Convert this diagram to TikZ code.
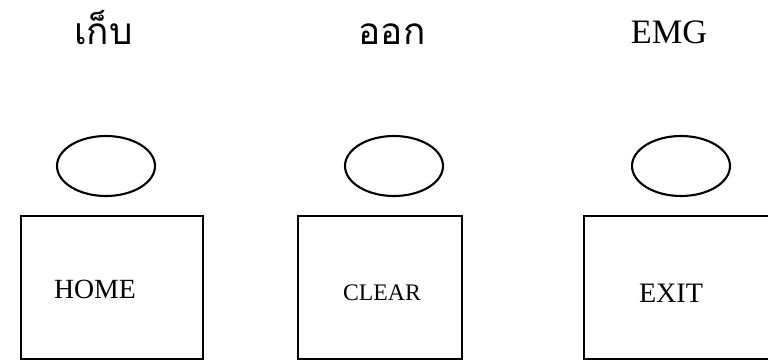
\documentclass[tikz,border=0pt]{standalone}
\usepackage{fontspec}
\setmainfont{Liberation Serif}
\newfontfamily\thaifont[Script=Thai]{Loma}
\usetikzlibrary{shapes.geometric,positioning}

\tikzset{
    keybox/.style={draw,line width=1.1pt,rectangle,minimum height=2.86cm,inner sep=0pt},
    lamp/.style={draw,line width=1.2pt,ellipse,minimum width=1.96cm,minimum height=1.2cm,inner sep=0pt},
    toplabel/.style={anchor=base,font=\fontsize{19.5}{22}\selectfont},
    thailabel/.style={anchor=base,font=\thaifont\fontsize{21}{24}\selectfont},
    keytext/.style={font=\fontsize{15.8}{18}\selectfont}
}

\begin{document}
\begin{tikzpicture}
    \useasboundingbox (0,0) rectangle (15.36,7.24);
    % Labels on top
    \node[thailabel] (lblkeep) at (2.07,6.34) {เก็บ};
    \node[thailabel] (lblout) at (7.84,6.34) {ออก};
    \node[toplabel] (lblemg) at (13.38,6.36) {EMG};
    % Lamps
    \node[lamp] (lamphome) at (2.12,3.92) {};
    \node[lamp] (lampclear) at (7.88,3.92) {};
    \node[lamp] (lampexit) at (13.62,3.92) {};
    % Keys
    \node[keybox,minimum width=3.64cm] (home) at (2.24,1.49) {};
    \node[keybox,minimum width=3.28cm] (clear) at (7.60,1.49) {};
    \node[keybox,minimum width=3.80cm] (exit) at (13.58,1.49) {};
    \node[keytext] (hometext) at (1.90,1.46) {HOME};
    \node[keytext,font=\fontsize{13.5}{16}\selectfont] (cleartext) at (7.64,1.38) {CLEAR};
    \node[keytext,font=\fontsize{16}{19}\selectfont] (exittext) at (13.42,1.38) {EXIT};
\end{tikzpicture}
\end{document}
